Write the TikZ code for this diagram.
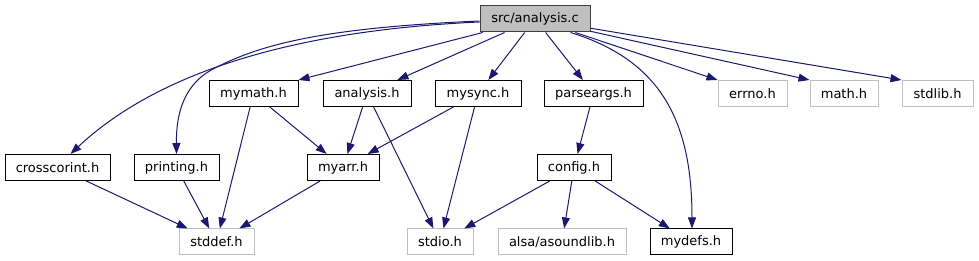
\documentclass[tikz,border=0pt]{standalone}
\usepackage{fontspec}
\setmainfont{DejaVu Sans}
\usetikzlibrary{arrows.meta}
\definecolor{edgeblue}{HTML}{191970}
\definecolor{sysgray}{HTML}{BFBFBF}
\definecolor{rootborder}{HTML}{404040}
\tikzset{
  box/.style={draw=black, line width=1pt, minimum height=26pt, inner sep=0pt,
    font=\fontsize{13}{15}\selectfont, text=black},
  sysbox/.style={box, draw=sysgray},
  rootbox/.style={box, draw=rootborder, fill=sysgray},
  edgeline/.style={draw=edgeblue, line width=1pt},
  edge/.style={edgeline, -{Triangle[length=11pt,width=8pt,fill=edgeblue]}}
}
\begin{document}
\begin{tikzpicture}[x=1pt,y=-1pt]
\useasboundingbox (0,0) rectangle (979,261);
% nodes
\node[rootbox, minimum width=110pt] (root) at (535,19) {src/analysis.c};
\node[box, minimum width=89pt] (mymath) at (253.5,93.5) {mymath.h};
\node[box, minimum width=88pt] (analysish) at (367,93.5) {analysis.h};
\node[box, minimum width=86pt] (mysync) at (478,93.5) {mysync.h};
\node[box, minimum width=99pt] (parseargs) at (593.5,93.5) {parseargs.h};
\node[sysbox, minimum width=69pt] (errno) at (752.5,93.5) {errno.h};
\node[sysbox, minimum width=68pt] (math) at (844,93.5) {math.h};
\node[sysbox, minimum width=71pt] (stdlib) at (937.5,93.5) {stdlib.h};
\node[box, minimum width=105pt] (crosscorint) at (57.5,167.5) {crosscorint.h};
\node[box, minimum width=85pt] (printing) at (176.5,167.5) {printing.h};
\node[box, minimum width=72pt] (myarr) at (343,167.5) {myarr.h};
\node[box, minimum width=74pt] (config) at (574,167.5) {config.h};
\node[sysbox, minimum width=75pt] (stddef) at (216.5,242) {stddef.h};
\node[sysbox, minimum width=66pt] (stdio) at (440,242) {stdio.h};
\node[sysbox, minimum width=128pt] (alsa) at (562,242) {alsa/asoundlib.h};
\node[box, minimum width=82pt] (mydefs) at (691,242) {mydefs.h};
% edges from root
\draw[edge] (root) -- (mymath.north east);
\draw[edge] (root) -- (analysish);
\draw[edge] (root) -- (mysync);
\draw[edge] (root) -- (parseargs);
\draw[edge] (root) -- (errno.north west);
\draw[edge] (root) -- (math.north west);
\draw[edge] (root) -- (stdlib.north west);
\draw[edge] ([yshift=-3pt]root.west) .. controls (300,30) and (160,70) .. ([xshift=13pt]crosscorint.north);
\coordinate (pmid) at (215,68);
\draw[edgeline] ([yshift=-2pt]root.west) .. controls (320,28) and (260,45) .. (pmid);
\draw[edge] (pmid) .. controls (193,79) and (176,100) .. (printing.north);
\draw[edge] ([xshift=-20pt]root.south east) .. controls (660,60) and (692,120) .. ([xshift=1pt]mydefs.north);
% second level
\draw[edge] (mymath) -- (myarr);
\draw[edge] (mymath) -- (stddef);
\draw[edge] (analysish) -- (myarr);
\draw[edge] (analysish) -- (stdio);
\draw[edge] (mysync) -- (myarr);
\draw[edge] (mysync) -- (stdio);
\draw[edge] (parseargs) -- (config);
\draw[edge] (config) -- (stdio);
\draw[edge] (config) -- (alsa);
\draw[edge] (config) -- (mydefs);
\draw[edge] (crosscorint) -- (stddef);
\draw[edge] (printing) -- (stddef);
\draw[edge] (myarr) -- (stddef);
\end{tikzpicture}
\end{document}
